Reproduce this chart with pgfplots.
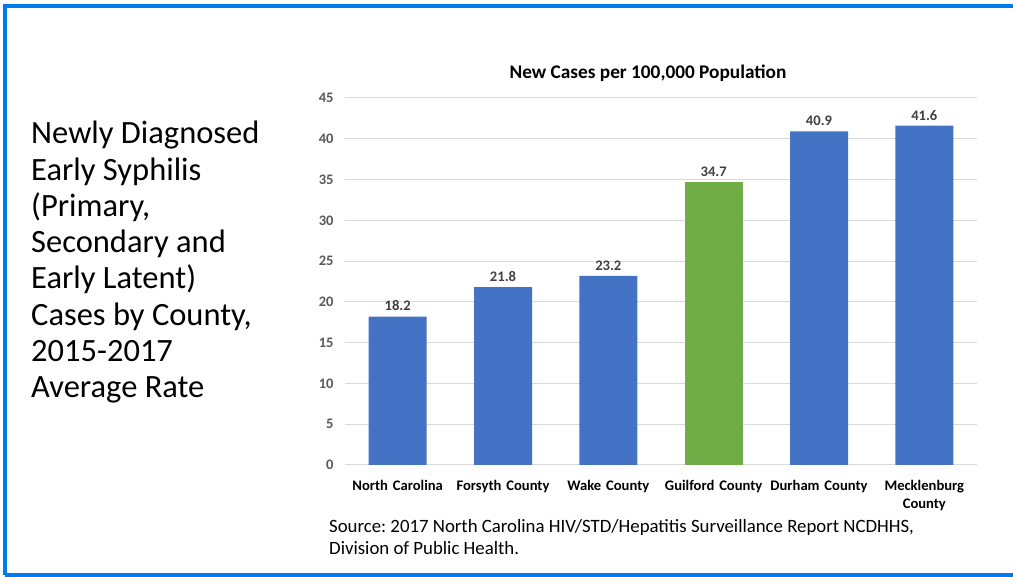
\documentclass[border=0pt]{standalone}
\usepackage{pgfplots}
\pgfplotsset{compat=1.18}
\usepackage{fontspec}
\setmainfont{Carlito}
\frenchspacing
\definecolor{frameblue}{RGB}{0,122,240}
\definecolor{barblue}{RGB}{68,114,196}
\definecolor{bargreen}{RGB}{112,173,71}
\definecolor{gridgray}{RGB}{217,217,217}
\definecolor{ticky}{RGB}{89,89,89}
\definecolor{lblgray}{RGB}{64,64,64}
\begin{document}
\begin{tikzpicture}
\useasboundingbox (0pt,0pt) rectangle (1013pt,577pt);
\fill[white] (0pt,0pt) rectangle (1013pt,577pt);
% slide frame
\draw[frameblue, line width=4.5pt] (5pt,2pt) -- (5pt,571pt) -- (1020pt,571pt);
\draw[frameblue, line width=4.5pt] (5pt,2pt) -- (1020pt,2pt);
% left heading
\node[anchor=north west, align=left, font=\fontsize{32.5}{36.3}\selectfont, inner sep=0pt]
  at (31pt,456pt) {Newly Diagnosed\\Early Syphilis\\(Primary,\\Secondary and\\Early Latent)\\Cases by County,\\2015-2017\\Average Rate};
% chart title
\node[font=\fontsize{19.3}{22}\selectfont\bfseries, text=black] at (648pt,504pt) {New Cases per 100,000 Population};
\begin{axis}[
  at={(345pt,112pt)}, anchor=south west,
  scale only axis, width=632pt, height=367pt,
  ybar, bar width=58pt, bar shift=0pt,
  xmin=-0.5, xmax=5.5, ymin=0, ymax=45,
  ytick={0,5,...,45},
  xtick={0,1,2,3,4,5},
  xticklabels={North Carolina, Forsyth County, Wake County, Guilford County, Durham County, {Mecklenburg\\County}},
  xticklabel style={font=\fontsize{14.6}{18}\selectfont\bfseries, text=black, align=center, text width=110pt, anchor=north, yshift=-12pt},
  yticklabel style={font=\fontsize{14.5}{16}\selectfont\bfseries, text=ticky, xshift=-8pt},
  /pgf/number format/assume math mode=true,
  axis line style={draw=none},
  major tick length=0pt,
  ymajorgrids, grid style={gridgray, line width=1pt},
  nodes near coords,
  every node near coord/.append style={font=\fontsize{14.6}{16}\selectfont\bfseries, text=lblgray, /pgf/number format/fixed, /pgf/number format/precision=1, /pgf/number format/fixed zerofill, yshift=2pt},
  clip=false,
]
\addplot[draw=none, fill=barblue] coordinates {(0,18.2) (1,21.8) (2,23.2) (4,40.9) (5,41.6)};
\addplot[draw=none, fill=bargreen] coordinates {(3,34.7)};
\end{axis}
% source note
\node[anchor=north west, align=left, font=\fontsize{18.8}{22}\selectfont, inner sep=0pt]
  at (329pt,58pt) {Source: 2017 North Carolina HIV/STD/Hepatitis Surveillance Report NCDHHS,\\Division of Public Health.};
\end{tikzpicture}
\end{document}
